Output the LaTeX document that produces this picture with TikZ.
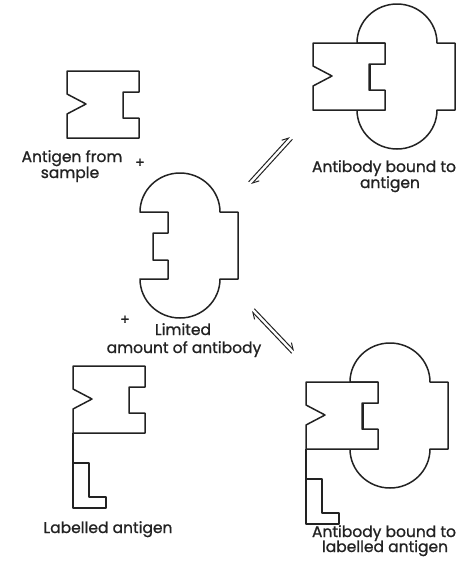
\documentclass[tikz,border=0pt]{standalone}
\usepackage{fontspec}
\setmainfont{Poppins}[FakeBold=1]
\usetikzlibrary{arrows.meta}
\definecolor{ink}{HTML}{222222}
\begin{document}
\begin{tikzpicture}[x=1pt,y=-1pt,
  outline/.style={line width=1.5pt, draw=ink, line join=round},
  lab/.style={anchor=base, font=\fontsize{15.5}{16}\selectfont, text=ink, inner sep=0pt},
  plus/.style={font=\fontsize{14}{14}\selectfont, text=ink, inner sep=0pt},
  harp/.style={line width=1pt, draw=ink, -{Straight Barb[harpoon,length=6pt,width=7pt,line width=1pt]}},
  antigen/.pic={\draw[outline, fill=white] (0,0) -- (72,0) -- (72,21) -- (56,21) -- (56,47)
      -- (72,47) -- (72,67) -- (0,67) -- (0,43) -- (19,33) -- (0,23) -- cycle;},
  taglabel/.pic={\draw[outline] (0,67) -- (0,97);
      \draw[outline, fill=white] (0,97) -- (16,97) -- (16,131) -- (33,131) -- (33,142) -- (0,142) -- cycle;},
  antibody/.pic={\draw[outline, fill=white] (0,0) arc[start angle=180, end angle=360, x radius=40, y radius=39]
      -- (98,0) -- (98,67) -- (80,67) arc[start angle=0, end angle=180, x radius=40, y radius=39]
      -- (28,67) -- (28,48) -- (13,48) -- (13,21) -- (28,21) -- (28,0) -- cycle;}
]
\useasboundingbox (0,0) rectangle (470,563);

% free antigen
\pic (agfree) at (67,71) {antigen};
\node[lab] (agtext1) at (72,162) {Antigen from};
\node[lab] (agtext2) at (70,178) {sample};
\node[plus] (plusA) at (140,163) {+};

% antibody
\pic (abfree) at (140,212) {antibody};
\node[lab] (abtext1) at (183,335) {Limited};
\node[lab] (abtext2) at (184,353) {amount of antibody};
\node[plus] (plusB) at (125,320) {+};

% labelled antigen
\pic (aglab) at (73,366) {antigen};
\pic (taglab) at (73,366) {taglabel};
\node[lab] (aglabtext) at (108,533) {Labelled antigen};

% antibody bound to antigen
\pic (cx1ab) at (357,43) {antibody};
\pic (cx1ag) at (313,43) {antigen};
\node[lab] (cx1text1) at (384,172) {Antibody bound to};
\node[lab] (cx1text2) at (390,188) {antigen};

% antibody bound to labelled antigen
\pic (cx2ab) at (350,382) {antibody};
\pic (cx2ag) at (306,382) {antigen};
\pic (cx2tag) at (306,382) {taglabel};
\node[lab] (cx2text1) at (384,537) {Antibody bound to};
\node[lab] (cx2text2) at (385,552) {labelled antigen};

% equilibrium arrows
\coordinate (eq1a) at (248.6,181.8);
\coordinate (eq1b) at (289.6,136.8);
\coordinate (eq1c) at (292.4,139.3);
\coordinate (eq1d) at (251.4,184.3);
\draw[harp] (eq1a) -- (eq1b);
\draw[harp] (eq1c) -- (eq1d);

\coordinate (eq2a) at (254.3,308.7);
\coordinate (eq2b) at (294.3,350.7);
\coordinate (eq2c) at (291.7,353.3);
\coordinate (eq2d) at (251.7,311.3);
\draw[harp] (eq2a) -- (eq2b);
\draw[harp] (eq2c) -- (eq2d);
\end{tikzpicture}
\end{document}
